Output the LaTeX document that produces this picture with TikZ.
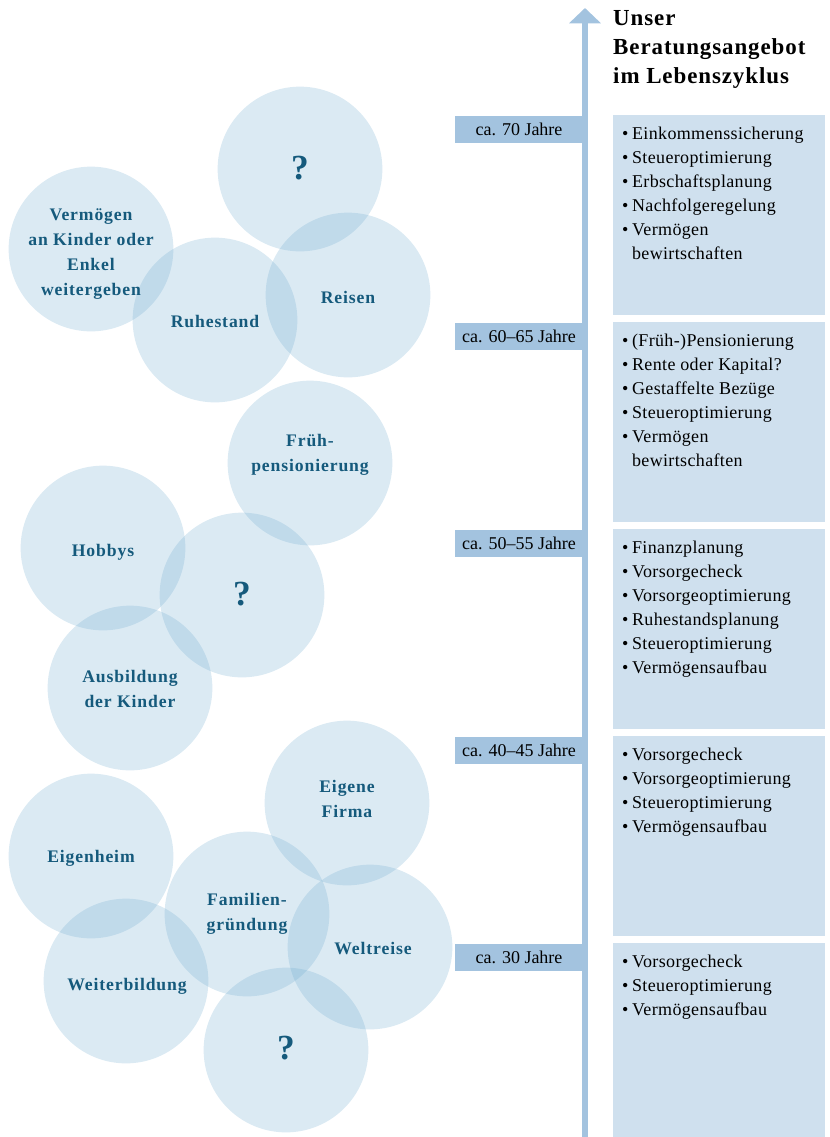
\documentclass[tikz,border=0pt]{standalone}
\usepackage{fontspec}
\setmainfont{Liberation Serif}
\newfontfamily\bubfont[LetterSpace=5]{Liberation Serif}
\newfontfamily\listfont[LetterSpace=2]{Liberation Serif}
\newfontfamily\titlefont[LetterSpace=4]{Liberation Serif}
\usetikzlibrary{positioning, arrows.meta}
\definecolor{bubblue}{HTML}{6FABCF}
\definecolor{bubtext}{HTML}{155A7C}
\definecolor{axisblue}{HTML}{A3C3DF}
\definecolor{boxblue}{HTML}{CFE0EE}
\newcommand{\itm}[1]{\makebox[0.55em][l]{\textbullet}#1}
\newcommand{\cont}[1]{\hspace*{0.55em}#1}

\begin{document}
\begin{tikzpicture}[x=0.85pt, y=-0.85pt,
    bubble/.style={circle, minimum size=140pt, inner sep=0, fill=bubblue, fill opacity=0.25, text opacity=1},
    bubtxt/.style={font=\bubfont\bfseries\fontsize{15}{21.25}\selectfont, text=bubtext, align=center, inner sep=0},
    ask/.style={font=\bfseries\fontsize{30}{30}\selectfont, text=bubtext, inner sep=0},
    agelabel/.style={fill=axisblue, minimum width=108.8pt, minimum height=23pt, inner sep=0, font=\fontsize{15.3}{18}\selectfont},
    offer/.style={fill=boxblue, anchor=north west, minimum width=180.2pt, minimum height=170pt, inner sep=0},
    offertxt/.style={inner sep=0, align=left, font=\listfont\fontsize{15.3}{20.4}\selectfont},
    axis/.style={draw=axisblue, line width=4.3pt, -{Triangle[width=26.4pt,length=13pt]}}]
    \useasboundingbox (0,0) rectangle (830,1137);

    % bubbles, top group
    \node[bubble] (ask1) at (300,169) {};
    \node[bubble] (erbe) at (91,249) {};
    \node[bubble] (ruhe) at (215,320) {};
    \node[bubble] (reisen) at (348,295) {};
    % bubbles, middle group
    \node[bubble] (frueh) at (310,463) {};
    \node[bubble] (hobby) at (103,548) {};
    \node[bubble] (ask2) at (242,595) {};
    \node[bubble] (ausb) at (130,688) {};
    % bubbles, bottom group
    \node[bubble] (firma) at (347,803) {};
    \node[bubble] (heim) at (91,856) {};
    \node[bubble] (familie) at (247,914) {};
    \node[bubble] (welt) at (370,947) {};
    \node[bubble] (weiter) at (126,981) {};
    \node[bubble] (ask3) at (286,1050) {};

    \node[ask] (ask1txt) at (300,168) {?};
    \node[bubtxt] (erbetxt) at (91,254) {Vermögen\\an Kinder oder\\Enkel\\weitergeben};
    \node[bubtxt] (ruhetxt) at (215,321) {Ruhestand};
    \node[bubtxt] (reisentxt) at (348,297) {Reisen};
    \node[bubtxt] (fruehtxt) at (310,455) {Früh-\\pensionierung};
    \node[bubtxt] (hobbytxt) at (103,552) {Hobbys};
    \node[ask] (ask2txt) at (242,594) {?};
    \node[bubtxt] (ausbtxt) at (130,688.5) {Ausbildung\\der Kinder};
    \node[bubtxt] (firmatxt) at (347,798.5) {Eigene\\Firma};
    \node[bubtxt] (heimtxt) at (91,858) {Eigenheim};
    \node[bubtxt] (familietxt) at (247,914) {Familien-\\gründung};
    \node[bubtxt] (welttxt) at (373,948) {Weltreise};
    \node[bubtxt] (weitertxt) at (127,986) {Weiterbildung};
    \node[ask] (ask3txt) at (286,1048) {?};

    % timeline
    \node[agelabel] (age70) at (519,129.5) {ca. 70 Jahre};
    \node[agelabel] (age60) at (519,336.5) {ca. 60--65 Jahre};
    \node[agelabel] (age50) at (519,543.5) {ca. 50--55 Jahre};
    \node[agelabel] (age40) at (519,750.5) {ca. 40--45 Jahre};
    \node[agelabel] (age30) at (519,957.5) {ca. 30 Jahre};
    \coordinate (axisfoot) at (585,1137);
    \coordinate (axistip) at (585,8);
    \draw[axis] (axisfoot) -- (axistip);

    \node[anchor=north west, inner sep=0, align=left, font=\titlefont\bfseries\fontsize{19.5}{24.65}\selectfont] (title) at (613,4.7) {\strut Unser\\Beratungsangebot\\im Lebenszyklus};

    % offers
    \node[offer] (box70) at (613,115) {};
    \node[offer] (box60) at (613,322) {};
    \node[offer] (box50) at (613,529) {};
    \node[offer] (box40) at (613,736) {};
    \node[offer, minimum height=165pt] (box30) at (613,943) {};
    \node[offertxt, below right=6.1pt and 7.6pt of box70.north west] (list70) {\strut\itm{Einkommenssicherung}\\\itm{Steueroptimierung}\\\itm{Erbschaftsplanung}\\\itm{Nachfolgeregelung}\\\itm{Vermögen}\\\cont{bewirtschaften}};
    \node[offertxt, below right=6.1pt and 7.6pt of box60.north west] (list60) {\strut\itm{(Früh-)Pensionierung}\\\itm{Rente oder Kapital?}\\\itm{Gestaffelte Bezüge}\\\itm{Steueroptimierung}\\\itm{Vermögen}\\\cont{bewirtschaften}};
    \node[offertxt, below right=6.1pt and 7.6pt of box50.north west] (list50) {\strut\itm{Finanzplanung}\\\itm{Vorsorgecheck}\\\itm{Vorsorgeoptimierung}\\\itm{Ruhestandsplanung}\\\itm{Steueroptimierung}\\\itm{Vermögensaufbau}};
    \node[offertxt, below right=6.1pt and 7.6pt of box40.north west] (list40) {\strut\itm{Vorsorgecheck}\\\itm{Vorsorgeoptimierung}\\\itm{Steueroptimierung}\\\itm{Vermögensaufbau}};
    \node[offertxt, below right=6.1pt and 7.6pt of box30.north west] (list30) {\strut\itm{Vorsorgecheck}\\\itm{Steueroptimierung}\\\itm{Vermögensaufbau}};
\end{tikzpicture}
\end{document}
